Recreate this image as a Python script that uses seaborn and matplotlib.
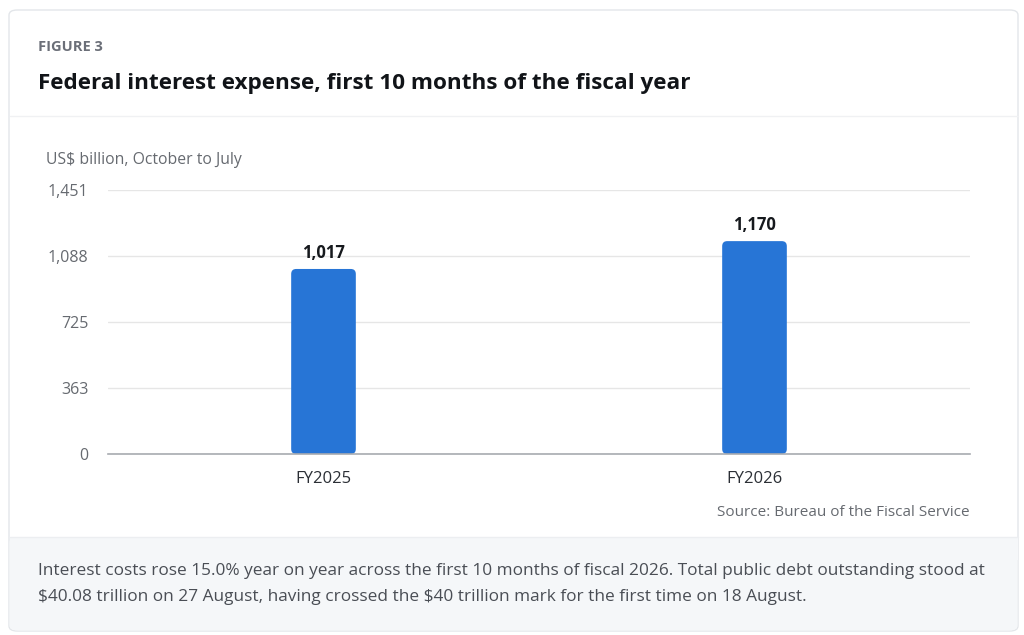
import matplotlib
matplotlib.use("Agg")
import matplotlib.pyplot as plt
from matplotlib.patches import FancyBboxPatch, Rectangle
import seaborn as sns
import pandas as pd

categories = ["FY2025", "FY2026"]
values = [1017, 1170]
value_labels = ["1,017", "1,170"]
yticks = [0, 363, 725, 1088, 1451]
ytick_labels = ["0", "363", "725", "1,088", "1,451"]

sns.set_theme(style="white")
plt.rcParams["font.family"] = ["Open Sans", "DejaVu Sans"]
plt.rcParams["text.parse_math"] = False

W, H = 1024, 635
fig = plt.figure(figsize=(W / 100, H / 100), dpi=100)
fig.patch.set_facecolor("white")

def fx(px):
    return px / W

def fy(py):
    return 1 - py / H

# card background
card = FancyBboxPatch((fx(9), fy(631)), fx(1018) - fx(9), fy(10) - fy(631),
                      boxstyle="round,pad=0,rounding_size=0.008",
                      transform=fig.transFigure, facecolor="white",
                      edgecolor="#e3e6ea", linewidth=1.0, zorder=0)
fig.patches.append(card)
# footer band
footer = FancyBboxPatch((fx(9.5), fy(630.5)), fx(1017.5) - fx(9.5), fy(537) - fy(630.5),
                        boxstyle="round,pad=0,rounding_size=0.008",
                        transform=fig.transFigure, facecolor="#f5f7f9",
                        edgecolor="none", zorder=0.5)
fig.patches.append(footer)
fig.patches.append(Rectangle((fx(9.5), fy(560)), fx(1017.5) - fx(9.5), fy(537) - fy(560),
                             transform=fig.transFigure, facecolor="#f5f7f9",
                             edgecolor="none", zorder=0.6))
fig.add_artist(plt.Line2D([fx(9.5), fx(1017.5)], [fy(537), fy(537)],
                          transform=fig.transFigure, color="#eceef1", lw=1, zorder=0.7))
# header separator
fig.add_artist(plt.Line2D([fx(9.5), fx(1017.5)], [fy(116), fy(116)],
                          transform=fig.transFigure, color="#f0f1f3", lw=1, zorder=0.7))

fig.text(fx(38), fy(47), "FIGURE 3", fontsize=10.5, fontweight="bold",
         color="#6b6f78", va="center", ha="left")
fig.text(fx(38), fy(84), "Federal interest expense, first 10 months of the fiscal year",
         fontsize=16.2, fontweight="bold", color="#111418", va="center", ha="left")
fig.text(fx(46), fy(160), "US$ billion, October to July", fontsize=11.3,
         color="#666a70", va="center", ha="left")
fig.text(fx(970), fy(513), "Source: Bureau of the Fiscal Service", fontsize=11,
         color="#666a70", va="center", ha="right")
fig.text(fx(38), fy(571),
         "Interest costs rose 15.0% year on year across the first 10 months of fiscal 2026. Total public debt outstanding stood at",
         fontsize=12.4, color="#4a4e55", va="center", ha="left")
fig.text(fx(38), fy(597),
         "$40.08 trillion on 27 August, having crossed the $40 trillion mark for the first time on 18 August.",
         fontsize=12.4, color="#4a4e55", va="center", ha="left")

# axes
ax_l, ax_r, ax_t, ax_b = 108, 970, 190, 454
ax = fig.add_axes([fx(ax_l), fy(ax_b), fx(ax_r) - fx(ax_l), fy(ax_t) - fy(ax_b)])
ax.set_zorder(5)
ax.set_facecolor("none")

df = pd.DataFrame({"year": categories, "value": values})
sns.barplot(data=df, x="year", y="value", color="#2775d6", width=0.15,
            saturation=1, ax=ax, zorder=3)

ax.set_xlim(-0.5, 1.5)
ax.set_ylim(0, 1451)
ax.set_yticks(yticks)
ax.set_yticklabels(ytick_labels)
ax.set_xlabel("")
ax.set_ylabel("")
ax.grid(axis="y", color="#e6e6e6", lw=1, zorder=0)
ax.grid(axis="x", visible=False)
for s in ["top", "right", "left"]:
    ax.spines[s].set_visible(False)
ax.spines["bottom"].set_color("#a8abb0")
ax.spines["bottom"].set_linewidth(1.2)
ax.spines["bottom"].set_zorder(4)
ax.tick_params(axis="y", length=0, pad=14, labelsize=11.5, labelcolor="#666a70")
ax.tick_params(axis="x", length=0, pad=12, labelsize=12, labelcolor="#2b2f35")
for t in ax.get_xticklabels():
    t.set_fontweight("medium")

# rounded bars
px_per_x = (ax_r - ax_l) / 2.0
px_per_y = (ax_b - ax_t) / 1451.0
r_px = 5
aspect = px_per_x / px_per_y
for p in list(ax.patches):
    x0, y0, w, h = p.get_x(), p.get_y(), p.get_width(), p.get_height()
    fc = p.get_facecolor()
    p.set_visible(False)
    rb = FancyBboxPatch((x0, y0), w, h,
                        boxstyle=f"round,pad=0,rounding_size={r_px / px_per_x}",
                        mutation_aspect=aspect, facecolor=fc, edgecolor="none", zorder=3)
    ax.add_patch(rb)

for i, (v, lab) in enumerate(zip(values, value_labels)):
    ax.annotate(lab, (i, v), xytext=(0, 5), textcoords="offset points",
                ha="center", va="bottom", fontsize=12, fontweight="bold",
                color="#16191d", zorder=5)

fig.savefig("out.png", dpi=100, facecolor="white")
